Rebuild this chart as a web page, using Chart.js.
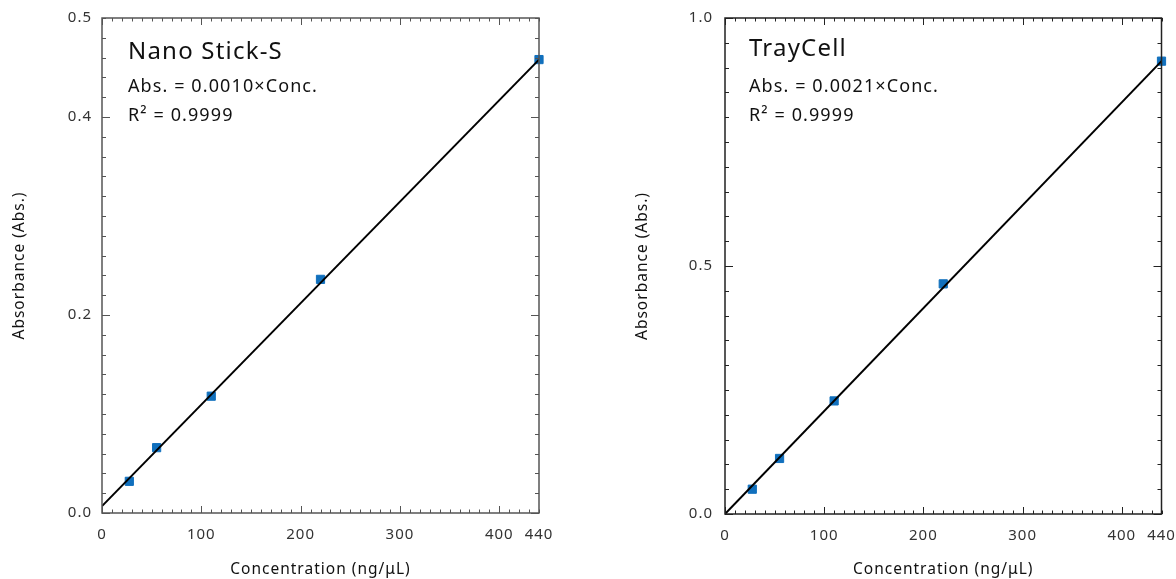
<!DOCTYPE html>
<html>
<head>
<meta charset="utf-8">
<script src="https://cdn.jsdelivr.net/npm/chart.js@4.4.1/dist/chart.umd.min.js"></script>
<style>
    body { margin: 0; background: #fff; width: 1176px; height: 579px; position: relative; overflow: hidden; }
    canvas { position: absolute; top: 0; }
    #chartNano { left: 0; }
    #chartTray { left: 600px; }
</style>
</head>
<body>
<canvas id="chartNano" width="600" height="579"></canvas>
<canvas id="chartTray" width="576" height="579"></canvas>
<script>
// Data
const concentrations = [27.5, 55, 110, 220, 440];
const nanoStickAbs = [0.032, 0.066, 0.118, 0.236, 0.458];
const trayCellAbs = [0.050, 0.112, 0.228, 0.464, 0.913];
const nanoStickFitX = [0, 440];
const nanoStickFitY = [0.007, 0.458];
const trayCellFitX = [0, 440];
const trayCellFitY = [0, 0.913];
const xTickValues = [0, 100, 200, 300, 400, 440];
const nanoStickYTicks = [0, 0.2, 0.4, 0.5];
const trayCellYTicks = [0, 0.5, 1.0];

const FONT = "'Noto Sans', sans-serif";
const MARKER = '#1170bd';

function toPoints(xs, ys) {
    return xs.map((x, i) => ({ x: x, y: ys[i] }));
}

// no automatic label overflow padding, layout.padding decides the plot box
function noScalePadding(s) {
    s.paddingLeft = 0;
    s.paddingRight = 0;
    s.paddingTop = 0;
    s.paddingBottom = 0;
}

// Frame + inward minor/major ticks on all four sides, plus the equation text
const framePlugin = {
    id: 'frame',
    beforeUpdate(chart) {
        chart.ctx.letterSpacing = '1px';
    },
    beforeDraw(chart) {
        chart.ctx.letterSpacing = '1px';
    },
    afterDatasetsDraw(chart, args, opts) {
        const ctx = chart.ctx;
        const a = chart.chartArea;
        const xs = chart.scales.x;
        const ys = chart.scales.y;
        ctx.save();
        ctx.strokeStyle = opts.color;
        ctx.lineWidth = 1;

        function seg(x1, y1, x2, y2) {
            ctx.beginPath();
            ctx.moveTo(x1, y1);
            ctx.lineTo(x2, y2);
            ctx.stroke();
        }

        for (let v = 0; v <= 440; v += 10) {
            const px = Math.round(xs.getPixelForValue(v)) + 0.5;
            const len = v % 100 === 0 ? 7 : 3.5;
            seg(px, a.bottom, px, a.bottom - len);
            seg(px, a.top, px, a.top + len);
        }
        const steps = Math.round(ys.max / opts.yMinor);
        for (let i = 0; i <= steps; i++) {
            const v = i * opts.yMinor;
            const py = Math.round(ys.getPixelForValue(v)) + 0.5;
            const r = v / opts.yMajor;
            const len = Math.abs(r - Math.round(r)) < 1e-6 ? 8 : 4;
            seg(a.left, py, a.left + len, py);
            seg(a.right, py, a.right - len, py);
        }

        ctx.lineWidth = 1.5;
        ctx.strokeRect(a.left, a.top, a.right - a.left, a.bottom - a.top);
        ctx.restore();
    },
    afterDraw(chart, args, opts) {
        const ctx = chart.ctx;
        const a = chart.chartArea;
        const x0 = a.left + opts.textOffset;
        ctx.save();
        ctx.fillStyle = '#111';
        ctx.textBaseline = 'alphabetic';
        ctx.letterSpacing = '1.2px';
        ctx.font = '24px ' + FONT;
        ctx.fillText(opts.title, x0, a.top + opts.titleY);
        ctx.letterSpacing = '1.1px';
        ctx.font = '18px ' + FONT;
        ctx.fillText(opts.equation, x0, a.top + 74);
        ctx.fillText('R² = ' + opts.r2, x0, a.top + 103);
        ctx.restore();
    }
};

function makeChart(canvasId, cfg) {
    return new Chart(document.getElementById(canvasId), {
        type: 'scatter',
        data: {
            datasets: [{
                type: 'line',
                data: toPoints(cfg.fitX, cfg.fitY),
                borderColor: '#000',
                borderWidth: 2,
                pointRadius: 0,
                fill: false
            }, {
                data: toPoints(concentrations, cfg.abs),
                backgroundColor: MARKER,
                borderColor: MARKER,
                pointStyle: 'rect',
                pointRadius: 5.8,
                pointBorderWidth: 1,
                clip: false
            }]
        },
        options: {
            responsive: false,
            animation: false,
            events: [],
            layout: { padding: { top: 18, right: cfg.padRight, left: 0, bottom: 0 } },
            plugins: {
                legend: { display: false },
                tooltip: { enabled: false },
                frame: {
                    color: cfg.frameColor,
                    yMinor: cfg.yMinor,
                    yMajor: cfg.yMajor,
                    title: cfg.title,
                    titleY: cfg.titleY,
                    textOffset: cfg.textOffset,
                    equation: cfg.equation,
                    r2: '0.9999'
                }
            },
            scales: {
                x: {
                    type: 'linear',
                    min: 0,
                    max: 440,
                    afterBuildTicks: s => { s.ticks = xTickValues.map(v => ({ value: v })); },
                    afterFit: s => {
                        s.height = cfg.xAxisHeight;
                        noScalePadding(s);
                    },
                    grid: { display: false, drawTicks: false },
                    border: { display: false },
                    ticks: {
                        padding: 13,
                        color: '#333',
                        font: { family: FONT, size: 15 },
                        callback: v => String(v),
                        maxRotation: 0,
                        autoSkip: false
                    },
                    title: {
                        display: true,
                        text: 'Concentration (ng/μL)',
                        color: '#111',
                        font: { family: FONT, size: 15.5 },
                        padding: { top: 0, bottom: 0 }
                    }
                },
                y: {
                    type: 'linear',
                    min: 0,
                    max: cfg.yMax,
                    afterBuildTicks: s => { s.ticks = cfg.yTicks.map(v => ({ value: v })); },
                    afterFit: s => {
                        s.width = cfg.yAxisWidth;
                        noScalePadding(s);
                    },
                    grid: { display: false, drawTicks: false },
                    border: { display: false },
                    ticks: {
                        padding: cfg.yTickPad,
                        color: '#333',
                        font: { family: FONT, size: 15 },
                        callback: v => Number(v).toFixed(1)
                    },
                    title: {
                        display: true,
                        text: 'Absorbance (Abs.)',
                        color: '#111',
                        font: { family: FONT, size: 15.5 },
                        padding: { top: cfg.yTitlePad, bottom: 0 }
                    }
                }
            }
        },
        plugins: [framePlugin]
    });
}

makeChart('chartNano', {
    abs: nanoStickAbs,
    fitX: nanoStickFitX,
    fitY: nanoStickFitY,
    yMax: 0.5,
    yTicks: nanoStickYTicks,
    yMinor: 0.02,
    yMajor: 0.2,
    padRight: 61,
    yAxisWidth: 102,
    xAxisHeight: 66,
    yTickPad: 10,
    yTitlePad: 10,
    frameColor: '#555',
    title: 'Nano Stick-S',
    titleY: 41,
    textOffset: 26,
    equation: 'Abs. = 0.0010×Conc.'
});

makeChart('chartTray', {
    abs: trayCellAbs,
    fitX: trayCellFitX,
    fitY: trayCellFitY,
    yMax: 1.0,
    yTicks: trayCellYTicks,
    yMinor: 0.05,
    yMajor: 0.5,
    padRight: 14.5,
    yAxisWidth: 125,
    xAxisHeight: 65,
    yTickPad: 12,
    yTitlePad: 33,
    frameColor: '#222',
    title: 'TrayCell',
    titleY: 38,
    textOffset: 24,
    equation: 'Abs. = 0.0021×Conc.'
});
</script>
</body>
</html>
